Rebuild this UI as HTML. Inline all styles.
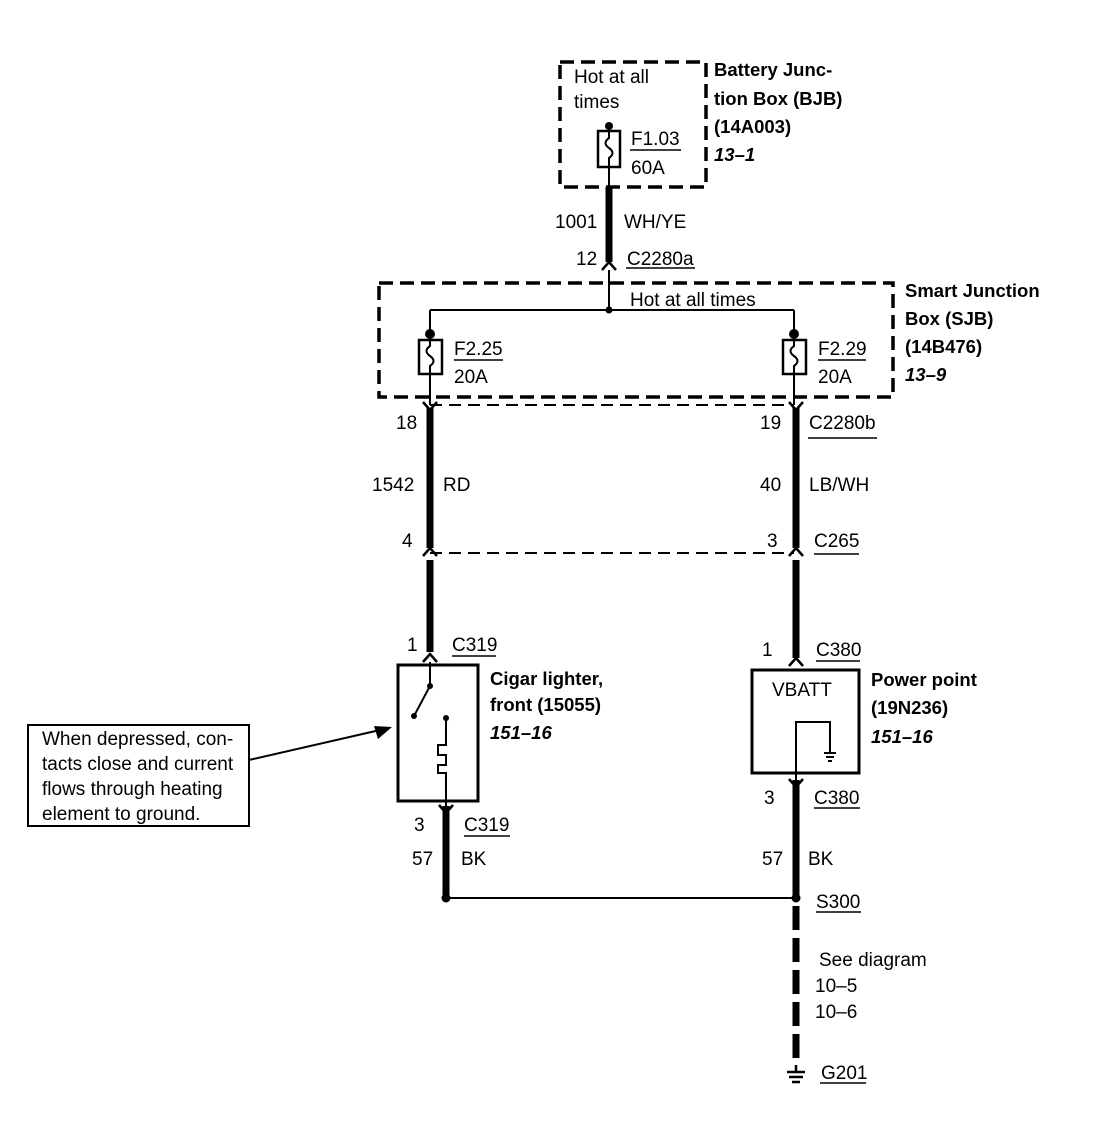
<!DOCTYPE html>
<html><head><meta charset="utf-8"><style>
html,body{margin:0;padding:0;background:#fff;}
svg{display:block;}
text{font-family:"Liberation Sans",Arial,sans-serif;font-size:19px;fill:#000;}
.b{font-weight:bold;font-size:18.5px;}
.bi{font-weight:bold;font-style:italic;font-size:18.5px;}
</style></head><body>
<svg width="1094" height="1136" viewBox="0 0 1094 1136" xmlns="http://www.w3.org/2000/svg">
<g fill="none" stroke="#000">
<rect x="560" y="62" width="146" height="125" stroke-width="3.5" stroke-dasharray="14,7"/>
<rect x="379" y="283" width="514" height="114" stroke-width="3.5" stroke-dasharray="14,7"/>
<line x1="430" y1="405" x2="794" y2="405" stroke-width="2" stroke-dasharray="12,7"/>
<line x1="430" y1="553" x2="794" y2="553" stroke-width="2" stroke-dasharray="12,7"/>
<rect x="598" y="131" width="22" height="36" stroke-width="2.5"/>
<path d="M609 126 V138 q-7 5 0 10 q7 5 0 10 V187" stroke-width="2"/>
<rect x="419" y="340" width="23" height="34" stroke-width="2.5"/>
<path d="M430 310 V346 q-7 5 0 10 q7 5 0 10 V405" stroke-width="2"/>
<rect x="783" y="340" width="23" height="34" stroke-width="2.5"/>
<path d="M794 310 V346 q-7 5 0 10 q7 5 0 10 V405" stroke-width="2"/>
<line x1="609" y1="270" x2="609" y2="310" stroke-width="2"/>
<line x1="430" y1="310" x2="794" y2="310" stroke-width="2"/>
<line x1="609" y1="187" x2="609" y2="262" stroke-width="7"/>
<line x1="430" y1="408" x2="430" y2="548" stroke-width="7"/>
<line x1="430" y1="560" x2="430" y2="652" stroke-width="7"/>
<line x1="796" y1="408" x2="796" y2="548" stroke-width="7"/>
<line x1="796" y1="560" x2="796" y2="658" stroke-width="7"/>
<line x1="446" y1="806" x2="446" y2="896" stroke-width="7"/>
<line x1="796" y1="780" x2="796" y2="896" stroke-width="7"/>
<line x1="796" y1="906" x2="796" y2="1065" stroke-width="7" stroke-dasharray="24,8"/>
<path d="M602 270 L609 262 L616 270" stroke-width="2.5"/>
<path d="M423 402 L430 410 L437 402" stroke-width="2.5"/>
<path d="M789 402 L796 410 L803 402" stroke-width="2.5"/>
<path d="M423 556 L430 548 L437 556" stroke-width="2.5"/>
<path d="M789 556 L796 548 L803 556" stroke-width="2.5"/>
<path d="M423 662 L430 654 L437 662" stroke-width="2.5"/>
<path d="M789 666 L796 658 L803 666" stroke-width="2.5"/>
<path d="M439 805 L446 813 L453 805" stroke-width="2.5"/>
<path d="M789 779 L796 787 L803 779" stroke-width="2.5"/>
<rect x="398" y="665" width="80" height="136" stroke-width="3"/>
<path d="M430 662 V686 L414 716" stroke-width="2"/>
<path d="M446 718 V745 h-8 v10 h8 v10 h-8 v8 h8 V806" stroke-width="2"/>
<rect x="752" y="670" width="107" height="103" stroke-width="3"/>
<path d="M796 780 V722 H830 V752" stroke-width="2"/>
<path d="M824 753 H836 M826 757 H834 M828 761 H832" stroke-width="2"/>
<line x1="446" y1="898" x2="796" y2="898" stroke-width="2"/>
<path d="M796 1065 V1072 M787 1072 H805 M789 1077 H803 M792 1082 H800" stroke-width="2.5"/>
<rect x="28" y="725" width="221" height="101" stroke-width="2"/>
<line x1="249" y1="760" x2="380" y2="730" stroke-width="2"/>
<g stroke-width="1.5">
<line x1="630" y1="150" x2="681" y2="150"/>
<line x1="626" y1="268" x2="695" y2="268"/>
<line x1="454" y1="360" x2="503" y2="360"/>
<line x1="818" y1="360" x2="866" y2="360"/>
<line x1="808" y1="438" x2="877" y2="438"/>
<line x1="814" y1="554" x2="859" y2="554"/>
<line x1="452" y1="656" x2="496" y2="656"/>
<line x1="816" y1="661" x2="860" y2="661"/>
<line x1="464" y1="836" x2="510" y2="836"/>
<line x1="814" y1="808" x2="860" y2="808"/>
<line x1="816" y1="912" x2="861" y2="912"/>
<line x1="820" y1="1083" x2="866" y2="1083"/>
</g>
</g>
<g fill="#000">
<circle cx="609" cy="126" r="4"/>
<circle cx="609" cy="310" r="3.5"/>
<circle cx="430" cy="334" r="5"/>
<circle cx="794" cy="334" r="5"/>
<circle cx="430" cy="686" r="3"/>
<circle cx="414" cy="716" r="3"/>
<circle cx="446" cy="718" r="3"/>
<circle cx="446" cy="898" r="4.5"/>
<circle cx="796" cy="898" r="4.5"/>
<polygon points="392,727 374,726 378,739"/>
</g>
<text x="574" y="83">Hot at all</text>
<text x="574" y="108">times</text>
<text x="631" y="145">F1.03</text>
<text x="631" y="174">60A</text>
<text x="714" y="76" class="b">Battery Junc-</text>
<text x="714" y="105" class="b">tion Box (BJB)</text>
<text x="714" y="133" class="b">(14A003)</text>
<text x="714" y="161" class="bi">13–1</text>
<text x="555" y="228">1001</text>
<text x="624" y="228">WH/YE</text>
<text x="576" y="265">12</text>
<text x="627" y="265">C2280a</text>
<text x="630" y="306">Hot at all times</text>
<text x="905" y="297" class="b">Smart Junction</text>
<text x="905" y="325" class="b">Box (SJB)</text>
<text x="905" y="353" class="b">(14B476)</text>
<text x="905" y="381" class="bi">13–9</text>
<text x="454" y="355">F2.25</text>
<text x="454" y="383">20A</text>
<text x="818" y="355">F2.29</text>
<text x="818" y="383">20A</text>
<text x="396" y="429">18</text>
<text x="760" y="429">19</text>
<text x="809" y="429">C2280b</text>
<text x="372" y="491">1542</text>
<text x="443" y="491">RD</text>
<text x="760" y="491">40</text>
<text x="809" y="491">LB/WH</text>
<text x="402" y="547">4</text>
<text x="767" y="547">3</text>
<text x="814" y="547">C265</text>
<text x="407" y="651">1</text>
<text x="452" y="651">C319</text>
<text x="762" y="656">1</text>
<text x="816" y="656">C380</text>
<text x="490" y="685" class="b">Cigar lighter,</text>
<text x="490" y="711" class="b">front (15055)</text>
<text x="490" y="739" class="bi">151–16</text>
<text x="772" y="696">VBATT</text>
<text x="871" y="686" class="b">Power point</text>
<text x="871" y="714" class="b">(19N236)</text>
<text x="871" y="743" class="bi">151–16</text>
<text x="42" y="745">When depressed, con-</text>
<text x="42" y="770">tacts close and current</text>
<text x="42" y="795">flows through heating</text>
<text x="42" y="820">element to ground.</text>
<text x="414" y="831">3</text>
<text x="464" y="831">C319</text>
<text x="764" y="804">3</text>
<text x="814" y="804">C380</text>
<text x="412" y="865">57</text>
<text x="461" y="865">BK</text>
<text x="762" y="865">57</text>
<text x="808" y="865">BK</text>
<text x="816" y="908">S300</text>
<text x="819" y="966">See diagram</text>
<text x="815" y="992">10–5</text>
<text x="815" y="1018">10–6</text>
<text x="821" y="1079">G201</text>
</svg>
</body></html>
